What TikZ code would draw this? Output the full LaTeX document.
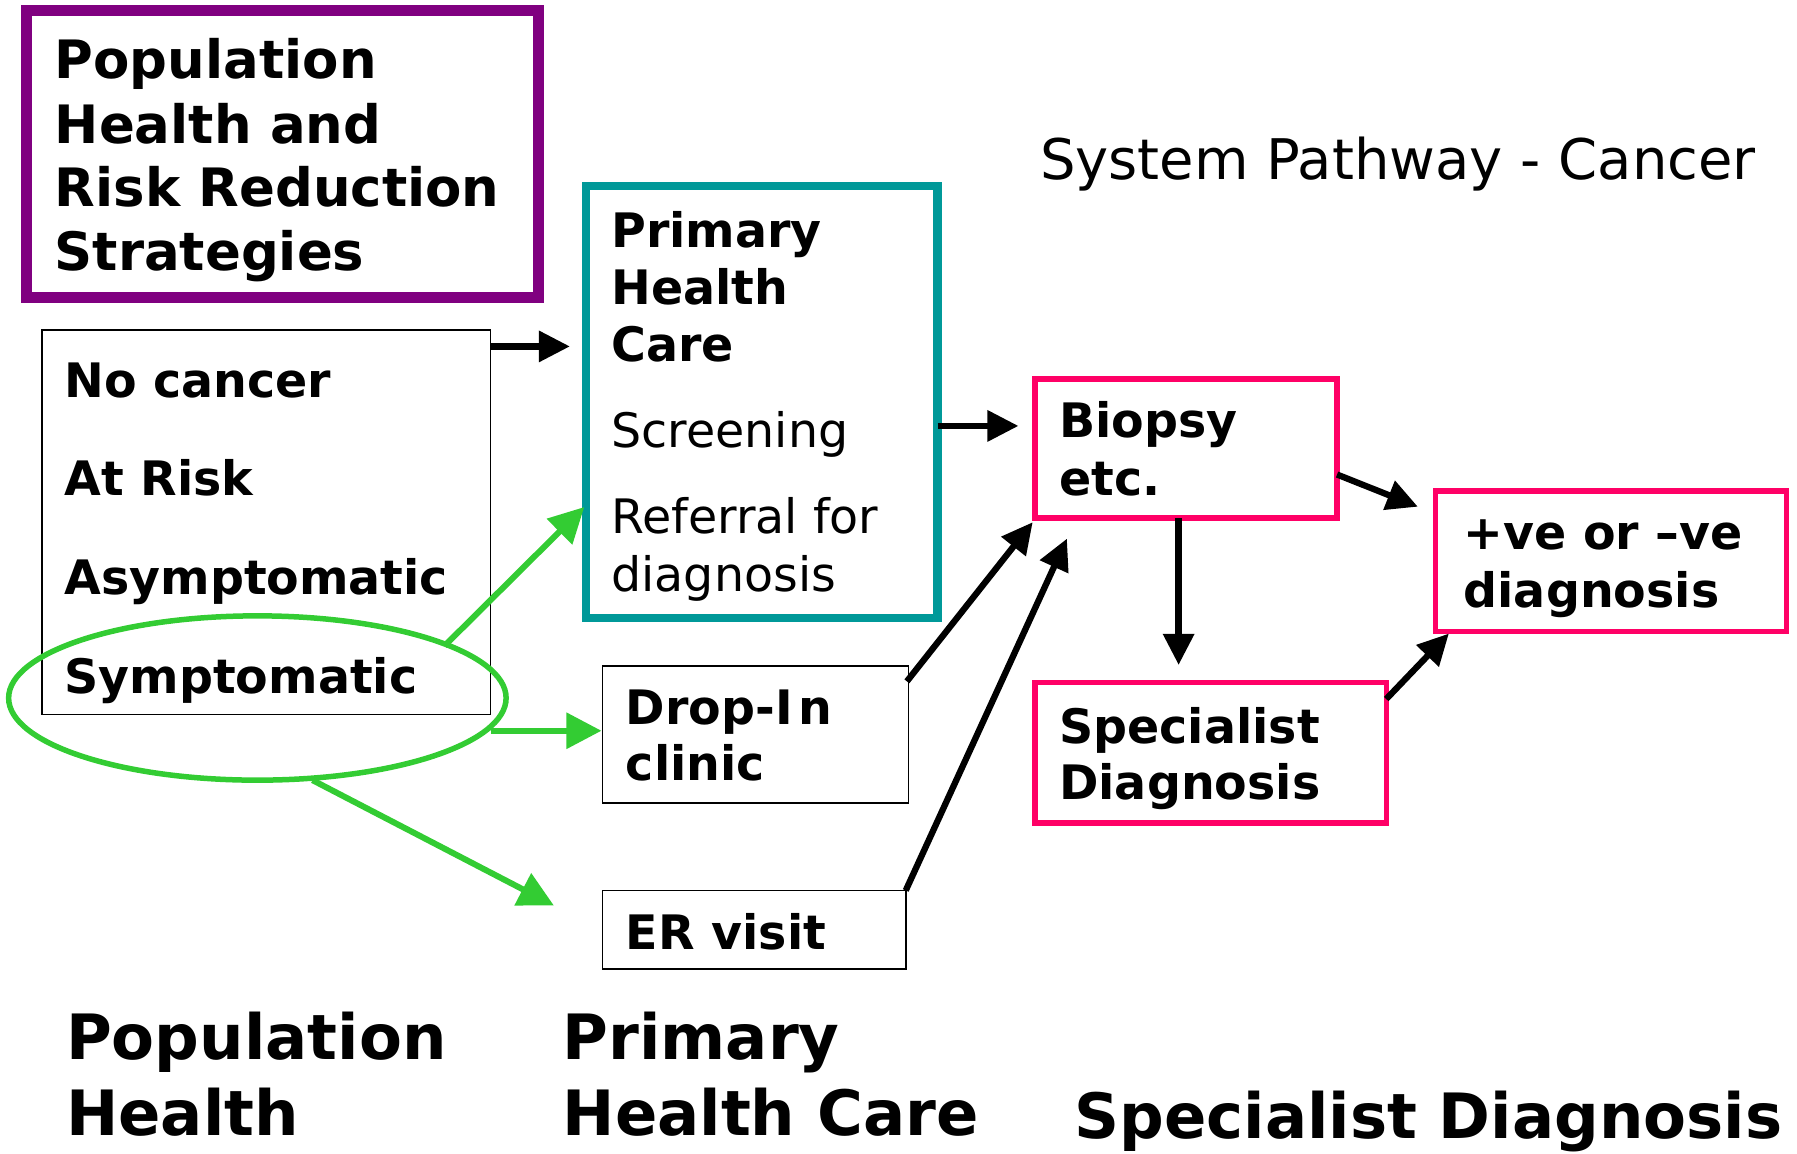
\documentclass[tikz,border=0pt]{standalone}
\usepackage{fontspec}
\setmainfont{DejaVu Sans}
\usetikzlibrary{arrows.meta,fit,shapes.geometric}
\definecolor{ppurple}{HTML}{800080}
\definecolor{pteal}{HTML}{009999}
\definecolor{ppink}{HTML}{FF0066}
\definecolor{pgreen}{HTML}{33CC33}
\begin{document}
\begin{tikzpicture}[x=1.149pt,y=-1.149pt,
  frame/.style={draw, inner sep=0pt, outer sep=0pt},
  thinbox/.style={frame, line width=1.6pt},
  pinkbox/.style={frame, ppink, line width=5.5pt},
  txt/.style={anchor=base west, inner sep=0pt, font=\fontsize{47.5pt}{56pt}\selectfont},
  txtb/.style={anchor=base west, inner sep=0pt, font=\fontsize{47.5pt}{56pt}\selectfont\bfseries},
  bigb/.style={anchor=base west, inner sep=0pt, font=\fontsize{62.5pt}{75pt}\selectfont\bfseries},
  arr/.style={line width=6.3pt, -{Triangle[length=31pt,width=30pt]}},
  garr/.style={pgreen, line width=6pt, -{Triangle[length=35pt,width=35pt]}}]
\useasboundingbox (0,0) rectangle (1564,1004.35);

% boxes
\node[frame, ppurple, line width=11.5pt, fit={(23,9) (468.5,258.8)}] (purple) {};
\node[thinbox, fit={(36.5,287) (427,622)}] (states) {};
\node[frame, pteal, line width=8.3pt, fit={(510,162) (816,538)}] (phc) {};
\node[pinkbox, fit={(900.8,330) (1163.7,450.8)}] (biopsy) {};
\node[pinkbox, fit={(1249.2,427.3) (1555,549.6)}] (result) {};
\node[pinkbox, fit={(900.8,593.8) (1206.7,716.4)}] (spec) {};
\node[thinbox, fit={(524.5,579.7) (790.8,699)}] (drop) {};
\node[thinbox, fit={(524.5,775) (788.3,843.6)}] (er) {};
\node[draw=pgreen, line width=5.5pt, ellipse, inner sep=0pt,
      minimum width=497.5pt, minimum height=164.3pt] (sympt) at (224,607.5) {};

% texts
\begin{scope}[every node/.append style={font=\fontsize{52.9pt}{64pt}\selectfont\bfseries}]
\node[anchor=base west, inner sep=0pt] (p1) at (47.5,68) {Population};
\node[anchor=base west, inner sep=0pt] (p2) at (47.5,125) {Health and};
\node[anchor=base west, inner sep=0pt] (p3) at (47.5,180) {Risk Reduction};
\node[anchor=base west, inner sep=0pt] (p4) at (47.5,235) {Strategies};
\end{scope}

\node[txtb] (s1) at (56,346) {No cancer};
\node[txtb] (s2) at (56,431) {At Risk};
\node[txtb] (s3) at (56,517) {Asymptomatic};
\node[txtb] (s4) at (56,603.6) {Symptomatic};

\node[txtb] (h1) at (532,215) {Primary};
\node[txtb] (h2) at (532,265) {Health};
\node[txtb] (h3) at (532,314.7) {Care};
\node[txt] (h4) at (532,389.6) {Screening};
\node[txt] (h5) at (532,464.7) {Referral for};
\node[txt] (h6) at (532,515) {diagnosis};

\node[txtb] (b1) at (921.7,381) {Biopsy};
\node[txtb] (b2) at (921.7,431) {etc.};
\node[txtb] (r1) at (1273.7,478.6) {+ve or –ve};
\node[txtb] (r2) at (1273.7,529) {diagnosis};
\node[txtb] (sp1) at (921.7,646.7) {Specialist};
\node[txtb] (sp2) at (921.7,696) {Diagnosis};
\node[txtb] (d1) at (544.6,630.5) {Drop-I\kern0.12em n};
\node[txtb] (d2) at (544.6,679.6) {clinic};
\node[txtb] (e1) at (544.6,826) {ER visit};

\node[anchor=base west, inner sep=0pt, font=\fontsize{56pt}{66pt}\selectfont] (title) at (905,155.8) {System Pathway - Cancer};

\node[bigb] (l1) at (57.4,921.7) {Population};
\node[bigb] (l2) at (57.4,988) {Health};
\node[bigb] (l3) at (489.6,921.7) {Primary};
\node[bigb] (l4) at (489.6,988) {Health Care};
\node[bigb] (l5) at (935,991) {Specialist Diagnosis};

% connector end points
\coordinate (a1s) at (427,301.5);
\coordinate (a1e) at (496,301.5);
\coordinate (a2s) at (816,370.7);
\coordinate (a2e) at (886.4,370.7);
\coordinate (a3s) at (1025.8,450.8);
\coordinate (a3e) at (1025.8,578.7);
\coordinate (a4s) at (1163.7,413);
\coordinate (a4e) at (1234,441);
\coordinate (a5s) at (1206.5,608.4);
\coordinate (a5e) at (1261,551.4);
\coordinate (a6s) at (789.3,593);
\coordinate (a6e) at (898.8,454.5);
\coordinate (a7s) at (788.3,775);
\coordinate (a7e) at (928.6,468.8);
\coordinate (g1s) at (387,562);
\coordinate (g1e) at (508.5,441.3);
\coordinate (g2s) at (427,636);
\coordinate (g2e) at (523.5,636);
\coordinate (g3s) at (272,679);
\coordinate (g3e) at (482,788);

\draw[arr] (a1s) -- (a1e);
\draw[arr] (a2s) -- (a2e);
\draw[arr] (a3s) -- (a3e);
\draw[arr] (a4s) -- (a4e);
\draw[arr] (a5s) -- (a5e);
\draw[arr] (a6s) -- (a6e);
\draw[arr] (a7s) -- (a7e);
\draw[garr] (g1s) -- (g1e);
\draw[garr] (g2s) -- (g2e);
\draw[garr] (g3s) -- (g3e);
\end{tikzpicture}
\end{document}
